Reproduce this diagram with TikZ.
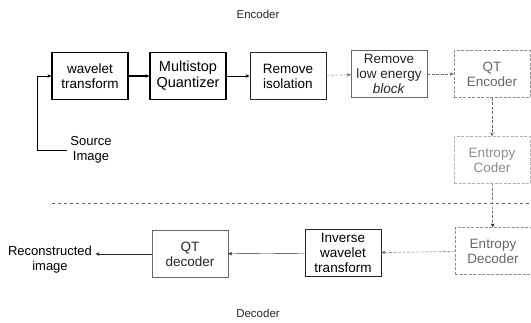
\documentclass[tikz,border=0pt]{standalone}
\usepackage{fontspec}
\setmainfont{Liberation Sans}
\usepackage{tikz}
\usetikzlibrary{
arrows.meta,
positioning
}
\definecolor{scandark}{gray}{0.15}
\definecolor{scanmid}{gray}{0.4}
\definecolor{scanlight}{gray}{0.55}
\definecolor{scanfaint}{gray}{0.7}

\begin{document}
\begin{tikzpicture}[x=1pt, y=1pt, >={Stealth[length=4pt,width=3.5pt]},
  block/.style={draw, minimum width=76, minimum height=47, inner sep=1pt,
    align=center, font=\fontsize{13.5}{15}\selectfont},
  label/.style={align=center, font=\fontsize{13}{15}\selectfont},
  faded/.style={dash pattern=on 3pt off 1.5pt}
]
\useasboundingbox (0,0) rectangle (531,-322);

% Headings
\node[label, text=scandark, font=\fontsize{11.5}{13}\selectfont] (enclab) at (258,-14) {Encoder};
\node[label, text=scandark, font=\fontsize{11.5}{13}\selectfont] (declab) at (258,-313) {Decoder};

% Encoder chain
\node[block, very thick] (wavelet) at (90,-76) {wavelet\\transform};
\node[block, very thick, font=\fontsize{14.5}{16}\selectfont] (quant) at (188,-76) {Multistop\\Quantizer};
\node[block, thick, draw=scandark] (isol) at (288,-76) {Remove\\isolation};
\node[block, draw=scanmid, text=scandark] (lowen) at (389,-74) {Remove\\low energy\\\textit{block}};
\node[block, faded, draw=scanlight, text=scanmid] (qtenc) at (492,-74) {QT\\Encoder};
\node[block, faded, draw=scanfaint, text=scanlight] (entcod) at (492,-160) {Entropy\\Coder};

% Source
\node[label] (src) at (91,-150) {Source\\Image};
\draw[->, thick] (src.west) -- ++(-29,0) |- (wavelet.west);

\draw[->, very thick] (wavelet) -- (quant);
\draw[->, thick] (quant) -- (isol);
\draw[->, scanmid, faded] (isol) -- (lowen);
\draw[->, scanmid, faded] (lowen) -- (qtenc);
\draw[->, scanmid, faded] (qtenc) -- (entcod);

% Separator
\draw[dashed, scanmid, thick] (52,-203) -- (530,-203);

% Decoder chain
\node[block, faded, draw=scanlight, text=scanmid] (entdec) at (493,-251) {Entropy\\Decoder};
\node[block, thick, draw=scandark] (invwav) at (343,-253) {Inverse\\wavelet\\transform};
\node[block, draw=scanmid, text=scandark] (qtdec) at (190,-254) {QT\\decoder};
\node[label] (recon) at (50,-260) {Reconstructed\\image};

\draw[->, scandark, faded] (entcod) -- (entdec);
\draw[->, scanmid, faded] (entdec) -- (invwav);
\draw[->, scandark] (invwav) -- (qtdec);
\draw[->, scandark] (qtdec.west) -- (qtdec.west -| recon.east);

\end{tikzpicture}
\end{document}
